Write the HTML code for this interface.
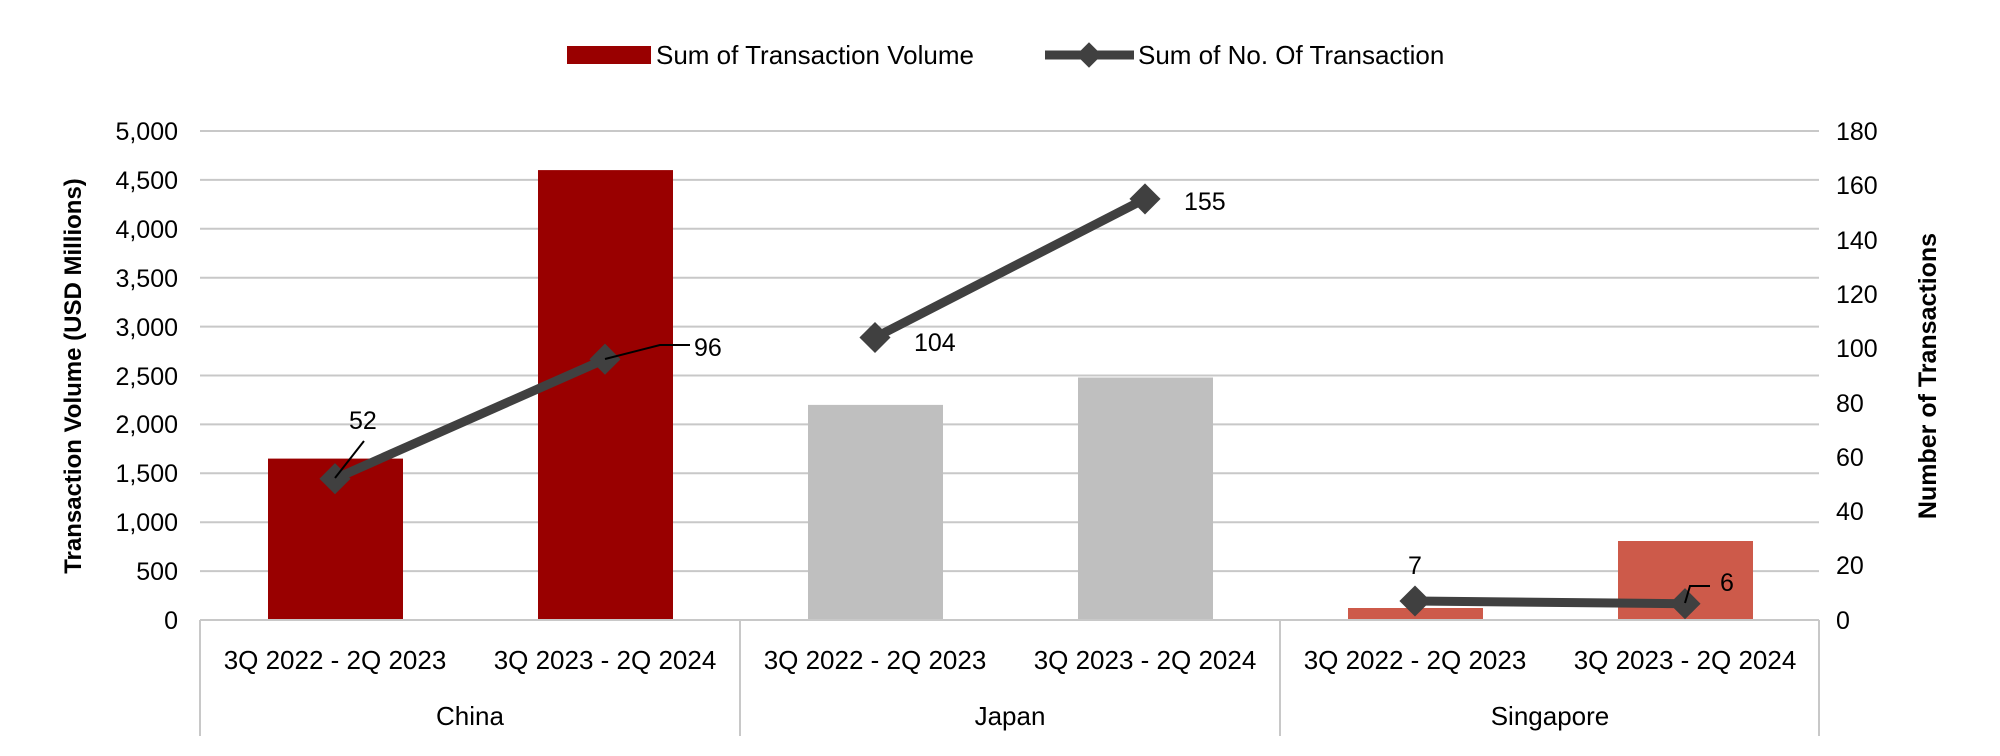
<!DOCTYPE html>
<html><head><meta charset="utf-8"><style>
body{margin:0;background:#fff}
svg{display:block;font-family:"Liberation Sans",sans-serif}
</style></head><body>
<svg width="2000" height="756" viewBox="0 0 2000 756" xmlns="http://www.w3.org/2000/svg">
<!-- legend -->
<rect x="567" y="46" width="84" height="18" fill="#990000"/>
<text x="656" y="64" font-size="26" fill="#000">Sum of Transaction Volume</text>
<line x1="1045" y1="55" x2="1134" y2="55" stroke="#404040" stroke-width="9"/>
<rect x="1080" y="46" width="18" height="18" fill="#404040" transform="rotate(45 1089 55)"/>
<text x="1138" y="64" font-size="26" fill="#000">Sum of No. Of Transaction</text>
<!-- gridlines -->
<g stroke="#c8c8c8" stroke-width="2">
<line x1="200" x2="1819" y1="131" y2="131"/>
<line x1="200" x2="1819" y1="179.9" y2="179.9"/>
<line x1="200" x2="1819" y1="228.8" y2="228.8"/>
<line x1="200" x2="1819" y1="277.7" y2="277.7"/>
<line x1="200" x2="1819" y1="326.6" y2="326.6"/>
<line x1="200" x2="1819" y1="375.5" y2="375.5"/>
<line x1="200" x2="1819" y1="424.4" y2="424.4"/>
<line x1="200" x2="1819" y1="473.3" y2="473.3"/>
<line x1="200" x2="1819" y1="522.2" y2="522.2"/>
<line x1="200" x2="1819" y1="571.1" y2="571.1"/>
</g>
<!-- bars -->
<rect x="268" y="458.6" width="135" height="161.4" fill="#990000"/>
<rect x="538" y="170.1" width="135" height="449.9" fill="#990000"/>
<rect x="808" y="404.9" width="135" height="215.1" fill="#bfbfbf"/>
<rect x="1078" y="377.5" width="135" height="242.5" fill="#bfbfbf"/>
<rect x="1348" y="608" width="135" height="12" fill="#cd5a4a"/>
<rect x="1618" y="541" width="135" height="79" fill="#cd5a4a"/>
<!-- axis -->
<g stroke="#c8c8c8" stroke-width="2">
<line x1="200" x2="1819" y1="620" y2="620"/>
<line x1="200" x2="200" y1="620" y2="736"/>
<line x1="740" x2="740" y1="620" y2="736"/>
<line x1="1280" x2="1280" y1="620" y2="736"/>
<line x1="1819" x2="1819" y1="620" y2="736"/>
</g>
<!-- line -->
<polyline points="335,478.7 605,359.2" fill="none" stroke="#404040" stroke-width="9"/>
<polyline points="875,337.5 1145,198.9" fill="none" stroke="#404040" stroke-width="9"/>
<polyline points="1415,601 1685,603.7" fill="none" stroke="#404040" stroke-width="9"/>
<g fill="#404040">
<rect x="324" y="467.7" width="22" height="22" transform="rotate(45 335 478.7)"/>
<rect x="594" y="348.2" width="22" height="22" transform="rotate(45 605 359.2)"/>
<rect x="864" y="326.5" width="22" height="22" transform="rotate(45 875 337.5)"/>
<rect x="1134" y="187.9" width="22" height="22" transform="rotate(45 1145 198.9)"/>
<rect x="1404" y="590" width="22" height="22" transform="rotate(45 1415 601)"/>
<rect x="1674" y="592.7" width="22" height="22" transform="rotate(45 1685 603.7)"/>
</g>
<!-- leader lines -->
<g stroke="#000" stroke-width="2" fill="none">
<line x1="335" y1="478" x2="364" y2="441"/>
<polyline points="605,359 660,345 690,345"/>
<polyline points="1685,603 1690,586 1710,586"/>
</g>
<g font-size="25" fill="#000">
<text x="349" y="429">52</text>
<text x="694" y="356">96</text>
<text x="914" y="351">104</text>
<text x="1184" y="210">155</text>
<text x="1408" y="574">7</text>
<text x="1720" y="591">6</text>
</g>
<!-- left ticks -->
<g font-size="25" fill="#000" text-anchor="end">
<text x="178" y="140">5,000</text>
<text x="178" y="189">4,500</text>
<text x="178" y="238">4,000</text>
<text x="178" y="287">3,500</text>
<text x="178" y="336">3,000</text>
<text x="178" y="385">2,500</text>
<text x="178" y="433">2,000</text>
<text x="178" y="482">1,500</text>
<text x="178" y="531">1,000</text>
<text x="178" y="580">500</text>
<text x="178" y="629">0</text>
</g>
<g font-size="25" fill="#000">
<text x="1836" y="140">180</text>
<text x="1836" y="194">160</text>
<text x="1836" y="249">140</text>
<text x="1836" y="303">120</text>
<text x="1836" y="357">100</text>
<text x="1836" y="412">80</text>
<text x="1836" y="466">60</text>
<text x="1836" y="520">40</text>
<text x="1836" y="574">20</text>
<text x="1836" y="629">0</text>
</g>
<text transform="translate(81 376) rotate(-90)" font-size="24" font-weight="bold" text-anchor="middle">Transaction Volume (USD Millions)</text>
<text transform="translate(1936 376) rotate(-90)" font-size="25" font-weight="bold" text-anchor="middle">Number of Transactions</text>
<!-- category labels -->
<g font-size="26" fill="#000" text-anchor="middle">
<text x="335" y="669">3Q 2022 - 2Q 2023</text>
<text x="605" y="669">3Q 2023 - 2Q 2024</text>
<text x="875" y="669">3Q 2022 - 2Q 2023</text>
<text x="1145" y="669">3Q 2023 - 2Q 2024</text>
<text x="1415" y="669">3Q 2022 - 2Q 2023</text>
<text x="1685" y="669">3Q 2023 - 2Q 2024</text>
<text x="470" y="725">China</text>
<text x="1010" y="725">Japan</text>
<text x="1550" y="725">Singapore</text>
</g>
</svg>
</body></html>
